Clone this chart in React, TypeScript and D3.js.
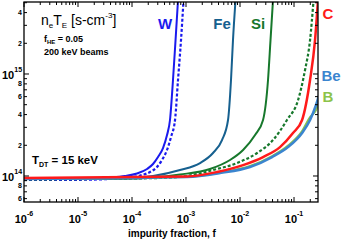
import * as d3 from "d3";
import React from "react";

// impurity fraction f vs n_e*tau_E [s cm^-3]
const wSolid: [number, number][] = [
  [1e-6, 0.935e14], [1.09e-5, 0.94e14], [3.9e-5, 0.967e14], [7.4e-5, 1.0e14],
  [1.24e-4, 1.058e14], [1.9e-4, 1.171e14], [2.45e-4, 1.311e14], [3.03e-4, 1.535e14],
  [3.75e-4, 1.88e14], [4.45e-4, 2.52e14], [5.05e-4, 3.54e14], [5.74e-4, 8.73e14],
  [6.4e-4, 2.15e15], [7.11e-4, 5.3e15],
];
const wDashed: [number, number][] = [
  [1e-6, 0.914e14], [1.09e-5, 0.918e14], [3.9e-5, 0.935e14], [9.2e-5, 0.967e14],
  [1.41e-4, 1.011e14], [2.15e-4, 1.094e14], [2.9e-4, 1.225e14], [3.59e-4, 1.435e14],
  [4.45e-4, 1.8e14], [5.27e-4, 2.41e14], [6.26e-4, 3.54e14], [7.11e-4, 8.73e14],
  [8.08e-4, 2.15e15], [9.0e-4, 5.3e15],
];
const fe: [number, number][] = [
  [1e-6, 0.935e14], [2.56e-5, 0.94e14], [9.2e-5, 0.956e14], [2.45e-4, 1.0e14],
  [7.74e-4, 1.145e14], [1.82e-3, 1.34e14], [3.16e-3, 1.68e14], [4.64e-3, 2.25e14],
  [6.0e-3, 3.54e14], [6.81e-3, 8.73e14], [7.41e-3, 2.15e15], [8.26e-3, 5.3e15],
];
const si: [number, number][] = [
  [1e-6, 0.935e14], [6e-5, 0.94e14], [2.45e-4, 0.967e14], [7.74e-4, 1.034e14],
  [2.78e-3, 1.171e14], [6.53e-3, 1.435e14], [1.14e-2, 1.8e14], [1.9e-2, 2.52e14],
  [2.67e-2, 3.54e14], [3.3e-2, 8.73e14], [3.67e-2, 2.15e15], [4.08e-2, 5.3e15],
];
const greenDashed: [number, number][] = [
  [1e-6, 0.925e14], [3.3e-4, 0.956e14], [1.04e-3, 1.0e14], [3.16e-3, 1.145e14],
  [8.79e-3, 1.34e14], [2.07e-2, 1.68e14], [4.08e-2, 2.25e14], [7.41e-2, 3.54e14],
  [0.119, 5.56e14], [0.16, 1.094e15], [0.198, 2.15e15], [0.23, 5.3e15],
];
const carbon: [number, number][] = [
  [1e-6, 0.956e14], [1.04e-3, 0.989e14], [3.75e-3, 1.094e14], [1.14e-2, 1.28e14],
  [2.67e-2, 1.535e14], [5.5e-2, 1.92e14], [9.57e-2, 2.64e14], [0.141, 3.54e14],
  [0.198, 8.73e14], [0.245, 2.15e15], [0.278, 5.3e15],
];
const beryllium: [number, number][] = [
  [1e-6, 0.935e14], [1.04e-3, 0.978e14], [4.27e-3, 1.07e14], [1.53e-2, 1.225e14],
  [3.92e-2, 1.535e14], [7.74e-2, 1.92e14], [0.141, 2.64e14], [0.198, 3.54e14],
  [0.256, 4.97e14], [0.33, 7.8e14],
];
const boron: [number, number][] = [
  [1e-6, 0.935e14], [1.04e-3, 0.98e14], [4.27e-3, 1.08e14], [1.53e-2, 1.253e14],
  [3.92e-2, 1.57e14], [7.74e-2, 1.99e14], [0.141, 2.76e14], [0.198, 3.79e14],
  [0.256, 4.44e14], [0.33, 6.66e14],
];

const xMajors = [-6, -5, -4, -3, -2, -1];
const yMinorLabels = [6e13, 8e13, 2e14, 4e14, 6e14, 8e14, 2e15, 4e15];
const yMajors = [14, 15];

const width = 342;
const height = 241;
const left = 24, right = 318, top = 2, bottom = 202;
const font = "'Liberation Sans', Arial, sans-serif";
const narrow = "'Liberation Sans Narrow', 'Arial Narrow', 'Liberation Sans', sans-serif";

const series = [
  { data: wDashed, color: "#1a1aee", w: 2.2, dash: "3,2" },
  { data: wSolid, color: "#1a1aee", w: 2, dash: "" },
  { data: fe, color: "#16608f", w: 2, dash: "" },
  { data: si, color: "#17782c", w: 2, dash: "" },
  { data: greenDashed, color: "#17782c", w: 2.2, dash: "3,2" },
  { data: boron, color: "#8cc34a", w: 2, dash: "" },
  { data: beryllium, color: "#3b85cf", w: 2.6, dash: "" },
  { data: carbon, color: "#ff1a1a", w: 2.5, dash: "" },
];

const labels = [
  { t: "W", x: 165, y: 29, c: "#1a1aee" },
  { t: "Fe", x: 222, y: 29, c: "#16608f" },
  { t: "Si", x: 258, y: 29, c: "#17782c" },
  { t: "C", x: 328, y: 19, c: "#ff1a1a" },
  { t: "Be", x: 331, y: 81, c: "#3b85cf" },
  { t: "B", x: 328, y: 102, c: "#8cc34a" },
];

export default function App() {
  const x = d3.scaleLog().domain([1e-6, 0.278]).range([left, right]);
  const y = d3.scaleLog().domain([5.56e13, 5.08e15]).range([bottom, top]);
  const line = d3
    .line<[number, number]>()
    .x((d) => x(d[0]))
    .y((d) => y(d[1]))
    .curve(d3.curveMonotoneX);

  const xMinor: number[] = [];
  for (let e = -6; e <= -1; e++)
    for (let m = 2; m <= 9; m++) {
      const v = m * Math.pow(10, e);
      if (v < 0.278) xMinor.push(v);
    }
  const yMinor: number[] = [];
  for (let e = 13; e <= 15; e++)
    for (let m = 2; m <= 9; m++) {
      const v = m * Math.pow(10, e);
      if (v > 5.56e13 && v < 5.08e15) yMinor.push(v);
    }

  return (
    <svg
      width={width}
      height={height}
      style={{ position: "absolute", left: 0, top: 0, background: "#fff" }}
      fontFamily={font}
    >
      <defs>
        <clipPath id="plot">
          <rect x={left} y={top} width={right - left} height={bottom - top} />
        </clipPath>
      </defs>
      <g clipPath="url(#plot)" fill="none">
        {series.map((s, i) => (
          <path
            key={i}
            d={line(s.data) ?? undefined}
            stroke={s.color}
            strokeWidth={s.w}
            strokeDasharray={s.dash || undefined}
          />
        ))}
      </g>
      <g stroke="#000" strokeWidth={1}>
        {xMajors.map((e) => (
          <g key={e}>
            <line x1={x(10 ** e)} x2={x(10 ** e)} y1={bottom} y2={bottom - 5} />
            <line x1={x(10 ** e)} x2={x(10 ** e)} y1={top} y2={top + 5} />
          </g>
        ))}
        {xMinor.map((v) => (
          <g key={v}>
            <line x1={x(v)} x2={x(v)} y1={bottom} y2={bottom - 3} />
            <line x1={x(v)} x2={x(v)} y1={top} y2={top + 3} />
          </g>
        ))}
        {yMajors.map((e) => (
          <g key={e}>
            <line x1={left} x2={left + 5} y1={y(10 ** e)} y2={y(10 ** e)} />
            <line x1={right} x2={right - 5} y1={y(10 ** e)} y2={y(10 ** e)} />
          </g>
        ))}
        {yMinor.map((v) => (
          <g key={v}>
            <line x1={left} x2={left + 3} y1={y(v)} y2={y(v)} />
            <line x1={right} x2={right - 3} y1={y(v)} y2={y(v)} />
          </g>
        ))}
        <rect x={left} y={top} width={right - left} height={bottom - top} fill="none" strokeWidth={1.3} />
      </g>
      <g fontWeight="bold" fill="#000">
        {xMajors.map((e) => (
          <text key={e} x={x(10 ** e)} y={223} textAnchor="middle" fontSize={11}>
            10<tspan dy={-7} fontSize={7}>{e}</tspan>
          </text>
        ))}
        {yMajors.map((e) => (
          <text key={e} x={2} y={y(10 ** e) + 5} fontSize={11}>
            10<tspan dy={-7} fontSize={7}>{e}</tspan>
          </text>
        ))}
        {yMinorLabels.map((v) => (
          <text key={v} x={left - 2} y={y(v) + 2.5} textAnchor="end" fontSize={7}>
            {Math.round(v / Math.pow(10, Math.floor(Math.log10(v))))}
          </text>
        ))}
        <text x={172} y={237} textAnchor="middle" fontSize={10} fontFamily={narrow}>
          impurity fraction, f
        </text>
        <text x={41} y={25} fontSize={14} fontWeight="normal" fontFamily={narrow}>
          n<tspan dy={3} fontSize={8}>e</tspan>
          <tspan dy={-3}>T</tspan>
          <tspan dy={3} fontSize={8}>E</tspan>
          <tspan dy={-3}> [s-cm</tspan>
          <tspan dy={-7} fontSize={8}>-3</tspan>
          <tspan dy={7}>]</tspan>
        </text>
        <text x={44} y={42} fontSize={9} fontFamily={narrow}>
          f<tspan dy={2} fontSize={6}>HE</tspan>
          <tspan dy={-2}> = 0.05</tspan>
        </text>
        <text x={44} y={55} fontSize={9} fontFamily={narrow}>200 keV beams</text>
        <text x={32} y={164} fontSize={11.5} fontFamily={narrow}>
          T<tspan dy={3} fontSize={7}>DT</tspan>
          <tspan dy={-3}> = 15 keV</tspan>
        </text>
        {labels.map((l) => (
          <text key={l.t} x={l.x} y={l.y} fill={l.c} fontSize={15} textAnchor="middle" fontFamily={narrow}>
            {l.t}
          </text>
        ))}
      </g>
    </svg>
  );
}
